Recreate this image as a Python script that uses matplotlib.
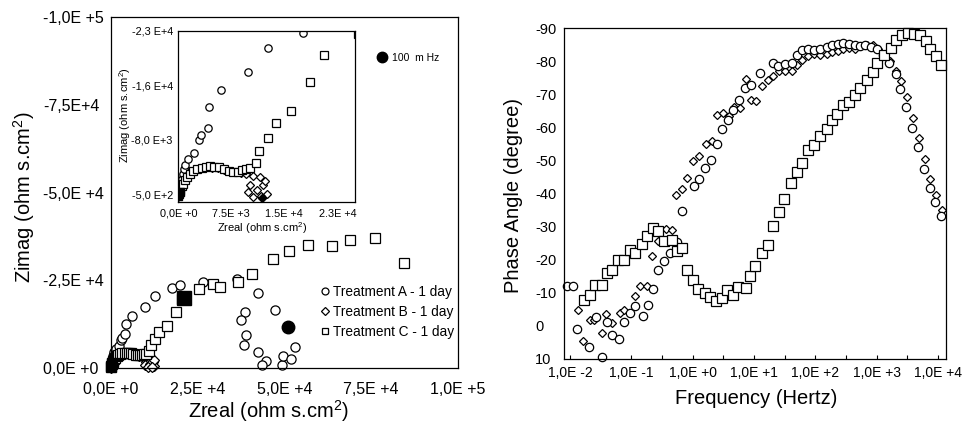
import matplotlib
matplotlib.use("Agg")
import matplotlib.pyplot as plt
from matplotlib.lines import Line2D

plt.rcParams["font.family"] = ["Liberation Sans", "DejaVu Sans"]
plt.rcParams["mathtext.default"] = "regular"

# ---- Nyquist data (Zreal, Zimag) in ohm s.cm2 ----
a_zre = [150, 250, 350, 500, 650, 800, 1000, 1400, 2200, 2900, 3200, 4150, 4300, 6000,
         9900, 12700, 17700, 19900, 26600, 36400, 42300, 47300, 38700, 37400, 38800,
         38200, 42300, 44600, 43500, 49200, 49500, 51800, 53100]
a_zim = [-300, -1000, -1800, -2600, -3300, -4000, -4600, -5300, -6200, -8000, -8700, -9600,
         -12500, -14900, -17300, -20600, -22700, -23600, -24500, -25500, -21400, -16600,
         -16000, -13600, -9300, -6500, -4600, -1900, -800, -800, -3300, -2700, -6000]

b_zre = [0, 100, 220, 380, 560, 800, 1150, 1700, 2400, 3200, 4000, 4800, 5600, 6400, 7200,
         8000, 8800, 9600, 10500, 11540, 10130, 12000, 9890, 11150, 12480, 10590, 12300,
         11730]
b_zim = [-150, -600, -1150, -1700, -2250, -2800, -3300, -3750, -4050, -4200, -4250, -4200,
         -4100, -3900, -3700, -3550, -3400, -3250, -3100, -2940, -1790, -1790, -870, -1100,
         -520, -190, -2300, -285]

c_zre = [100, 300, 500, 700, 950, 1270, 1650, 2120, 2680, 3300, 3900, 4500, 5100, 5800,
         6450, 7100, 7750, 8400, 8950, 9550, 10150, 10970, 11450, 12620, 13800, 16010, 18600,
         20580, 25400, 29500, 31400, 36500, 40600, 46600, 51400, 56900, 63700, 68800, 76200,
         84300]
c_zim = [-600, -1100, -1600, -2000, -2500, -2950, -3300, -3750, -4050, -4200, -4300, -4350,
         -4300, -4250, -3950, -3750, -3600, -3600, -3850, -4000, -4100, -4770, -6460, -8200,
         -10260, -12000, -15900, -19650, -22600, -24000, -23100, -24500, -26900, -31000,
         -33300, -35100, -34800, -36600, -37100, -30000]

# 100 mHz points (filled markers)
a_100_zre, a_100_zim = [50900], [-11700]
b_100_zre, b_100_zim = [11770], [-50]
c_100_zre, c_100_zim = [21100, 0, 300], [-19900, -300, -1500]
c_100_inset_zre, c_100_inset_zim = [0, 250], [-250, -900]

# ---- Bode phase data ----
f_a = [0.00883, 0.0110, 0.0132, 0.0204, 0.0262, 0.0328, 0.0396, 0.049, 0.063, 0.0759,
       0.095, 0.115, 0.157, 0.189, 0.223, 0.275, 0.345, 0.427, 0.548, 0.670, 1.06, 1.28,
       1.59, 1.99, 2.46, 2.97, 3.82, 4.60, 5.77, 7.13, 8.83, 12.5, 20.2, 24.9, 32.0, 41.1,
       49.6, 59.9, 76.9, 96.4, 119, 153, 189, 237, 286, 358, 443, 535, 645, 809, 1026,
       1285, 1610, 2042, 2462, 3006, 3816, 4777, 5984, 7413, 8940, 11480]
ph_a = [-12.0, -12.0, 0.9, 6.4, -2.7, 9.4, -1.1, 2.9, 3.9, -1.1, -3.9, -6.1, -3.1, -6.4,
        -11.2, -16.8, -19.5, -22.0, -25.4, -34.6, -42.2, -44.5, -47.7, -50.2, -55.1, -59.6,
        -62.1, -65.3, -68.2, -71.9, -72.9, -76.4, -79.4, -78.6, -79.1, -79.4, -81.9, -83.5,
        -83.7, -83.3, -83.7, -84.3, -85.0, -85.2, -85.5, -85.2, -85.0, -84.7, -85.0, -84.3,
        -83.8, -81.9, -79.4, -76.2, -71.7, -66.2, -59.8, -53.9, -47.5, -41.7, -37.3, -33.1]

f_b = [0.0137, 0.0165, 0.0212, 0.0246, 0.0328, 0.0387, 0.049, 0.0653, 0.0759, 0.115,
       0.138, 0.178, 0.220, 0.275, 0.363, 0.455, 0.535, 0.662, 0.819, 1.03, 1.28, 1.63,
       2.04, 2.52, 3.16, 3.91, 4.72, 5.91, 7.31, 8.83, 11.0, 13.7, 17.1, 20.7, 25.6, 32.0,
       41.1, 49.6, 59.9, 76.9, 96.4, 119, 153, 189, 237, 286, 358, 443, 548, 687, 861,
       1065, 1333, 1649, 2065, 2556, 3199, 3963, 4962, 6138, 7590, 9506, 11770]
ph_b = [-4.7, 4.5, -1.9, -1.7, 2.1, -3.7, -0.9, -3.9, -4.7, -9.1, -12.0, -12.2, -21.0,
        -25.5, -29.3, -29.0, -39.6, -41.4, -44.7, -49.7, -51.2, -55.1, -55.8, -63.6, -64.3,
        -63.3, -66.1, -65.8, -74.7, -68.3, -68.0, -72.4, -74.4, -75.4, -76.9, -76.9, -76.9,
        -78.9, -80.4, -81.4, -82.2, -81.9, -82.2, -82.9, -83.2, -83.8, -84.0, -83.8, -84.7,
        -84.8, -85.0, -83.7, -81.9, -80.1, -76.9, -73.9, -69.2, -62.8, -56.8, -50.4, -44.4,
        -39.6, -35.1]

f_c = [0.0169, 0.0212, 0.0256, 0.0328, 0.0396, 0.049, 0.0614, 0.0769, 0.095, 0.115,
       0.147, 0.178, 0.223, 0.275, 0.345, 0.455, 0.548, 0.662, 0.798, 1.0, 1.24, 1.59,
       1.92, 2.40, 2.97, 3.67, 4.60, 5.56, 7.31, 8.61, 10.6, 13.7, 17.1, 20.7, 25.9, 31.2,
       39.6, 49.6, 61.4, 76.9, 96.4, 119, 153, 189, 231, 286, 358, 443, 548, 687, 861,
       1038, 1333, 1713, 2118, 2654, 3283, 4063, 5090, 6372, 7590, 9270, 11480]
ph_c = [-7.9, -9.4, -12.4, -12.4, -16.0, -16.8, -19.8, -19.8, -22.8, -22.0, -24.8, -27.3,
        -29.6, -28.6, -25.5, -25.9, -22.5, -23.5, -17.0, -14.0, -11.2, -9.9, -8.6, -7.4,
        -8.4, -10.7, -9.4, -11.9, -11.3, -15.2, -18.0, -22.0, -24.5, -30.3, -34.4, -38.3,
        -43.2, -46.5, -49.2, -53.0, -54.6, -57.3, -59.6, -62.1, -64.1, -66.8, -67.6, -69.9,
        -71.9, -74.4, -76.6, -79.4, -81.9, -83.9, -86.5, -88.0, -88.5, -88.3, -87.8, -86.2,
        -83.8, -81.4, -78.9]

legend_labels = ["Treatment A - 1 day", "Treatment B - 1 day", "Treatment C - 1 day"]

main_xticks = [0, 25000, 50000, 75000, 100000]
main_xlabels = ["0,0E +0", "2,5E +4", "5,0E +4", "7,5E +4", "1,0E +5"]
main_yticks = [0, -25000, -50000, -75000, -100000]
main_ylabels = ["0,0E +0", "-2,5E +4", "-5,0E +4", "-7,5E+4", "-1,0E +5"]
inset_xticks = [0, 7500, 15000, 22500]
inset_xlabels = ["0,0E +0", "7.5E +3", "1.5E +4", "2.3E +4"]
inset_yticks = [-500, -8000, -15500, -23000]
inset_ylabels = ["-5,0 E+2", "-8,0 E+3", "-1,6 E+4", "-2,3 E+4"]
bode_xticks = [1e-2, 1e-1, 1e0, 1e1, 1e2, 1e3, 1e4]
bode_xlabels = ["1,0E -2", "1,0E -1", "1,0E +0", "1,0E +1", "1,0E +2", "1,0E +3", "1,0E +4"]
bode_minor = [10 ** (k + 0.5) for k in range(-2, 4)]
bode_yticks = [-90, -80, -70, -60, -50, -40, -30, -20, -10, 0, 10]

open_kw = dict(linestyle="none", markerfacecolor="white", markeredgecolor="black",
               markeredgewidth=0.9)
fill_kw = dict(linestyle="none", markerfacecolor="black", markeredgecolor="black")

fig = plt.figure(figsize=(9.65, 4.25), dpi=100)

# ---- main Nyquist ----
ax1 = fig.add_axes([0.115, 0.134, 0.3596, 0.826])
ax1.plot(b_zre, b_zim, marker="D", markersize=4.8, clip_on=False, **open_kw)
ax1.plot(a_zre, a_zim, marker="o", markersize=6.6, clip_on=False, **open_kw)
ax1.plot(c_zre, c_zim, marker="s", markersize=7, clip_on=False, **open_kw)
ax1.plot(a_100_zre, a_100_zim, marker="o", markersize=9, **fill_kw)
ax1.plot(c_100_zre[:1], c_100_zim[:1], marker="s", markersize=9.5, **fill_kw)
ax1.plot(c_100_zre[1:], c_100_zim[1:], marker="s", markersize=7.5, clip_on=False, **fill_kw)
ax1.set_xlim(0, 100000)
ax1.set_ylim(0, -100000)
ax1.set_xticks(main_xticks, main_xlabels)
ax1.set_yticks(main_yticks, main_ylabels)
ax1.tick_params(length=0, labelsize=11.5)
ax1.tick_params(axis="x", pad=10)
ax1.tick_params(axis="y", pad=49)
for t in ax1.get_yticklabels():
    t.set_horizontalalignment("left")
ax1.set_xlabel("Zreal (ohm s.cm$^{2}$)", fontsize=14.5)
ax1.set_ylabel("Zimag (ohm s.cm$^{2}$)", fontsize=14.5)
ax1.xaxis.label.set_va("center")
ax1.yaxis.label.set_va("center")
ax1.xaxis.set_label_coords(0.455, -0.122)
ax1.yaxis.set_label_coords(-0.251, 0.487)

handles = [Line2D([], [], marker=m, markersize=s, **open_kw)
           for m, s in (("o", 5), ("D", 3.8), ("s", 5))]
leg = ax1.legend(handles, legend_labels, loc="center left", bbox_to_anchor=(0.607, 0.1595),
                 frameon=False, fontsize=9.8, handlelength=0.5, handletextpad=0.35,
                 labelspacing=0.45, borderpad=0, borderaxespad=0)
ax1.add_artist(leg)
hz_handle = [Line2D([], [], marker="o", markersize=7.5, **fill_kw)]
ax1.legend(hz_handle, ["100  m Hz"], loc="center left", bbox_to_anchor=(0.767, 0.883),
           frameon=False, fontsize=7.5, handlelength=1.0, handletextpad=0.45,
           borderpad=0, borderaxespad=0)

# ---- inset ----
ax2 = fig.add_axes([0.1848, 0.5254, 0.1831, 0.4024])
ax2.set_facecolor("white")
ax2.plot(b_zre, b_zim, marker="D", markersize=3.8, **open_kw)
ax2.plot(a_zre, a_zim, marker="o", markersize=5.3, **open_kw)
ax2.plot(c_zre, c_zim, marker="s", markersize=6, **open_kw)
ax2.plot(b_100_zre, b_100_zim, marker="D", markersize=4.5, **fill_kw)
ax2.plot(c_100_inset_zre, c_100_inset_zim, marker="s", markersize=5.5, **fill_kw)
ax2.set_xlim(0, 25000)
ax2.set_ylim(500, -23000)
ax2.set_xticks(inset_xticks, inset_xlabels)
ax2.set_yticks(inset_yticks, inset_ylabels)
ax2.tick_params(length=0, labelsize=7.8)
ax2.tick_params(axis="x", pad=5)
ax2.tick_params(axis="y", pad=4)
ax2.set_xlabel("Zreal (ohm s.cm$^{2}$)", fontsize=8)
ax2.set_ylabel("Zimag (ohm s.cm$^{2}$)", fontsize=8)
ax2.xaxis.label.set_va("center")
ax2.yaxis.label.set_va("center")
ax2.xaxis.set_label_coords(0.472, -0.154)
ax2.yaxis.set_label_coords(-0.302, 0.507)

# ---- Bode phase ----
ax3 = fig.add_axes([0.5845, 0.1553, 0.3955, 0.7788])
ax3.plot(f_b, ph_b, marker="D", markersize=4.4, clip_on=False, **open_kw)
ax3.plot(f_a, ph_a, marker="o", markersize=6, clip_on=False, **open_kw)
ax3.plot(f_c, ph_c, marker="s", markersize=6.6, clip_on=False, **open_kw)
ax3.set_xscale("log")
ax3.set_xlim(10 ** -2.098, 10 ** 4.129)
ax3.set_ylim(10, -90)
ax3.set_xticks(bode_xticks, bode_xlabels)
ax3.set_xticks(bode_minor, minor=True)
ax3.set_xticklabels([], minor=True)
ax3.set_yticks(bode_yticks, [str(v) for v in bode_yticks])
ax3.tick_params(axis="x", which="both", direction="in", length=3, width=0.8,
                labelsize=10, pad=5, top=False)
ax3.tick_params(axis="y", length=0, labelsize=10.5, pad=21)
for t in ax3.get_yticklabels():
    t.set_horizontalalignment("left")
ax3.set_xlabel("Frequency (Hertz)", fontsize=14.5)
ax3.set_ylabel("Phase Angle (degree)", fontsize=14.5)
ax3.xaxis.label.set_va("center")
ax3.yaxis.label.set_va("center")
ax3.xaxis.set_label_coords(0.5025, -0.118)
ax3.yaxis.set_label_coords(-0.1336, 0.494)

for ax in (ax1, ax2, ax3):
    for sp in ax.spines.values():
        sp.set_linewidth(0.9)
        sp.set_color("black")

fig.savefig("out.png", dpi=100)
